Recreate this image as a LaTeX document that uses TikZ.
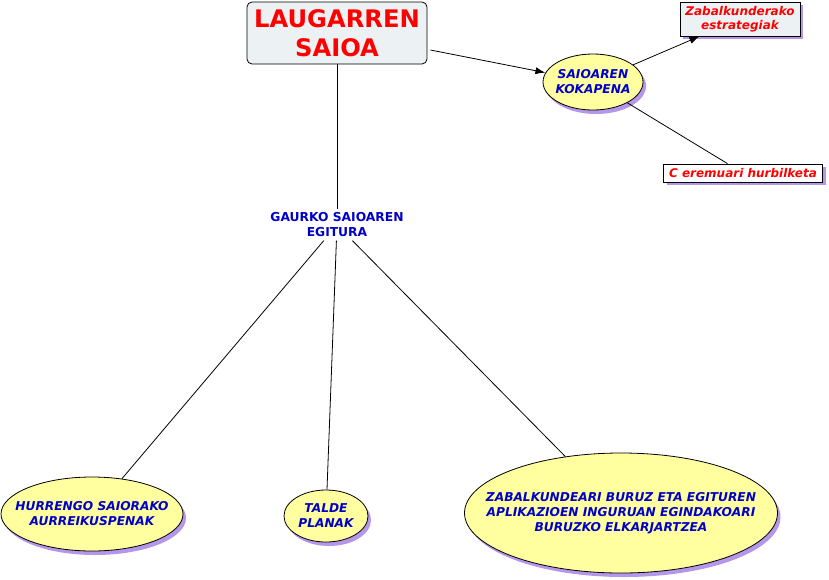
\documentclass[tikz,border=0pt]{standalone}
\usepackage{fontspec}
\setmainfont{DejaVu Sans}
\usetikzlibrary{arrows.meta,positioning,shapes.geometric,shadows}
\definecolor{conceptfill}{RGB}{255,255,160}
\definecolor{boxfill}{RGB}{236,242,244}
\definecolor{shade}{RGB}{180,150,235}
\definecolor{bluetext}{RGB}{0,0,200}
\definecolor{redtext}{RGB}{255,0,0}

\begin{document}
\begin{tikzpicture}[
  x=1pt, y=-1pt,
  every node/.style={align=center, font=\bfseries},
  mainbox/.style={draw, rounded corners=5pt, fill=boxfill, line width=0.8pt,
    minimum width=180pt, minimum height=62pt, text=redtext,
    font=\fontsize{24.2}{29}\selectfont\bfseries},
  concept/.style={ellipse, draw, fill=conceptfill, line width=0.8pt,
    inner xsep=-28pt, inner ysep=0pt, text=bluetext,
    font=\fontsize{12.2}{15}\selectfont\bfseries\itshape,
    drop shadow={shadow xshift=3pt, shadow yshift=-4pt, fill=shade, opacity=1}},
  leaf/.style={draw, fill=boxfill, line width=0.8pt, inner sep=1pt, text=redtext,
    font=\fontsize{12}{14}\selectfont\bfseries\itshape,
    drop shadow={shadow xshift=3pt, shadow yshift=-3pt, fill=shade, opacity=1}},
  plain/.style={text=bluetext, font=\fontsize{12.3}{15}\selectfont\bfseries},
  arrow/.style={-{Latex[length=10pt, width=7pt]}, line width=0.8pt},
  link/.style={line width=0.8pt}
]
\useasboundingbox (0,0) rectangle (829,579);

\node[mainbox] (saioa) at (337,33) {LAUGARREN\\SAIOA};
\node[plain] (egitura) at (337,225) {GAURKO SAIOAREN\\EGITURA};
\node[concept, minimum width=100pt, minimum height=56pt] (kokapena) at (593,82) {SAIOAREN\\KOKAPENA};
\node[leaf, minimum width=120pt, minimum height=34pt] (estrategiak) at (740,19) {Zabalkunderako\\estrategiak};
\node[leaf, minimum width=159pt, minimum height=18pt, fill=white] (hurbilketa) at (743,173) {C eremuari hurbilketa};
\node[concept, minimum width=182pt, minimum height=74pt] (aurreikuspenak) at (92,514) {HURRENGO SAIORAKO\\AURREIKUSPENAK};
\node[concept, minimum width=84pt, minimum height=52pt] (planak) at (326,516) {TALDE\\PLANAK};
\node[concept, minimum width=313pt, minimum height=120pt] (elkarjartzea) at (621,513) {ZABALKUNDEARI BURUZ ETA EGITUREN\\APLIKAZIOEN INGURUAN EGINDAKOARI\\BURUZKO ELKARJARTZEA};

\draw[link] (saioa) -- (egitura);
\draw[arrow] (saioa.east) ++(3,17) coordinate (s1) (s1) -- (kokapena);
\draw[arrow] (kokapena) -- (estrategiak);
\draw[link] (kokapena) -- (hurbilketa);
\draw[link] (egitura) -- (aurreikuspenak);
\draw[link] (egitura) -- (planak);
\draw[link] (egitura) -- (elkarjartzea);
\end{tikzpicture}
\end{document}
